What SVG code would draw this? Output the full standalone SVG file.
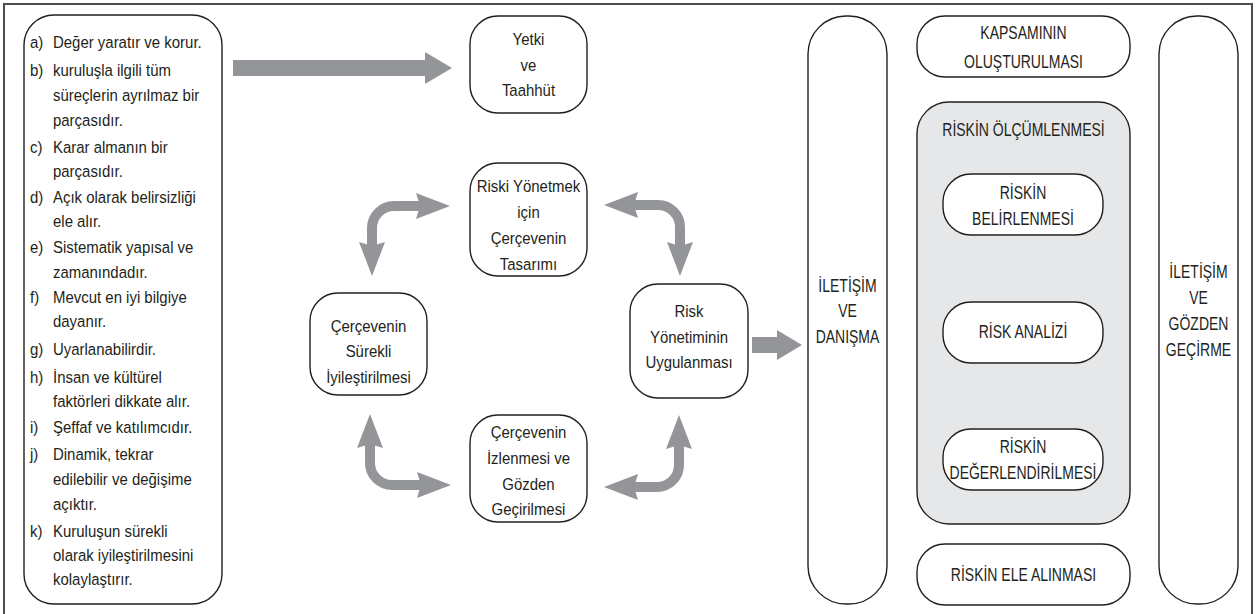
<svg xmlns="http://www.w3.org/2000/svg" width="1258" height="614" viewBox="0 0 1258 614">
<style>
.node{fill:#ffffff;stroke:#231f20;stroke-width:1.4}
.gray{fill:#e6e7e8;stroke:#231f20;stroke-width:1.4}
.t{font-family:"Liberation Sans",Arial,sans-serif;font-size:17px;fill:#231f20}
.c{text-anchor:middle}
.cap{font-family:"Liberation Sans",Arial,sans-serif;font-size:17.5px;fill:#231f20;text-anchor:middle}
.shaft{fill:none;stroke:#939598;stroke-width:10}
.big{fill:#939598}
</style>
<defs>
<marker id="head" markerUnits="userSpaceOnUse" markerWidth="40" markerHeight="30" viewBox="-2 -15 40 30" refX="4" refY="0" orient="auto-start-reverse">
<path d="M0,-13 L34,0 L0,13 L4,0 Z" fill="#939598"/>
</marker>
</defs>
<rect x="4" y="4" width="1248" height="640" fill="none" stroke="#4d4d4d" stroke-width="2"/>

<g id="principles">
<rect class="node" x="24" y="15" width="198" height="589" rx="30" ry="30"/>
<g transform="scale(0.88 1)">
<text class="t" x="34.09" y="48">a)</text><text class="t" x="60.23" y="48">Değer yaratır ve korur.</text>
<text class="t" x="34.09" y="76">b)</text><text class="t" x="60.23" y="76">kuruluşla ilgili tüm</text>
<text class="t" x="60.23" y="101">süreçlerin ayrılmaz bir</text>
<text class="t" x="60.23" y="126">parçasıdır.</text>
<text class="t" x="34.09" y="153">c)</text><text class="t" x="60.23" y="153">Karar almanın bir</text>
<text class="t" x="60.23" y="177">parçasıdır.</text>
<text class="t" x="34.09" y="203">d)</text><text class="t" x="60.23" y="203">Açık olarak belirsizliği</text>
<text class="t" x="60.23" y="227">ele alır.</text>
<text class="t" x="34.09" y="253">e)</text><text class="t" x="60.23" y="253">Sistematik yapısal ve</text>
<text class="t" x="60.23" y="278">zamanındadır.</text>
<text class="t" x="34.09" y="303">f)</text><text class="t" x="60.23" y="303">Mevcut en iyi bilgiye</text>
<text class="t" x="60.23" y="327">dayanır.</text>
<text class="t" x="34.09" y="355">g)</text><text class="t" x="60.23" y="355">Uyarlanabilirdir.</text>
<text class="t" x="34.09" y="383">h)</text><text class="t" x="60.23" y="383">İnsan ve kültürel</text>
<text class="t" x="60.23" y="407">faktörleri dikkate alır.</text>
<text class="t" x="34.09" y="433">i)</text><text class="t" x="60.23" y="433">Şeffaf ve katılımcıdır.</text>
<text class="t" x="34.09" y="460">j)</text><text class="t" x="60.23" y="460">Dinamik, tekrar</text>
<text class="t" x="60.23" y="485">edilebilir ve değişime</text>
<text class="t" x="60.23" y="510">açıktır.</text>
<text class="t" x="34.09" y="537">k)</text><text class="t" x="60.23" y="537">Kuruluşun sürekli</text>
<text class="t" x="60.23" y="561">olarak iyileştirilmesini</text>
<text class="t" x="60.23" y="585">kolaylaştırır.</text>
</g>
</g>

<g id="yetki">
<rect class="node" x="470" y="16" width="117" height="97" rx="28" ry="28"/>
<g transform="scale(0.88 1)">
<text class="t c" x="600.57" y="45">Yetki</text>
<text class="t c" x="600.57" y="71">ve</text>
<text class="t c" x="600.57" y="96">Taahhüt</text>
</g>
</g>

<g id="tasarim">
<rect class="node" x="470" y="163" width="117" height="113" rx="28" ry="28"/>
<g transform="scale(0.88 1)">
<text class="t c" x="600.57" y="192">Riski Yönetmek</text>
<text class="t c" x="600.57" y="218">için</text>
<text class="t c" x="600.57" y="244">Çerçevenin</text>
<text class="t c" x="600.57" y="270">Tasarımı</text>
</g>
</g>

<g id="iyilestirme">
<rect class="node" x="310" y="293" width="117" height="102" rx="28" ry="28"/>
<g transform="scale(0.88 1)">
<text class="t c" x="418.75" y="332">Çerçevenin</text>
<text class="t c" x="418.75" y="357">Sürekli</text>
<text class="t c" x="418.75" y="383">İyileştirilmesi</text>
</g>
</g>

<g id="uygulama">
<rect class="node" x="630" y="284" width="118" height="114" rx="28" ry="28"/>
<g transform="scale(0.88 1)">
<text class="t c" x="782.95" y="317">Risk</text>
<text class="t c" x="782.95" y="343">Yönetiminin</text>
<text class="t c" x="782.95" y="368">Uygulanması</text>
</g>
</g>

<g id="izleme">
<rect class="node" x="470" y="415" width="117" height="107" rx="28" ry="28"/>
<g transform="scale(0.88 1)">
<text class="t c" x="600.57" y="438">Çerçevenin</text>
<text class="t c" x="600.57" y="464">İzlenmesi ve</text>
<text class="t c" x="600.57" y="490">Gözden</text>
<text class="t c" x="600.57" y="515">Geçirilmesi</text>
</g>
</g>

<g id="iletisim-danisma">
<rect class="node" x="808" y="16" width="79" height="588" rx="38" ry="38"/>
<g transform="scale(0.8 1)">
<text class="cap" x="1059.375" y="292">İLETİŞİM</text>
<text class="cap" x="1059.375" y="317">VE</text>
<text class="cap" x="1059.375" y="343">DANIŞMA</text>
</g>
</g>

<g id="kapsam">
<rect class="node" x="917" y="16" width="213" height="61" rx="28" ry="28"/>
<g transform="scale(0.8 1)">
<text class="cap" x="1279.375" y="39">KAPSAMININ</text>
<text class="cap" x="1279.375" y="68">OLUŞTURULMASI</text>
</g>
</g>

<g id="olcumleme">
<rect class="gray" x="917" y="102" width="213" height="422" rx="32" ry="32"/>
<g transform="scale(0.8 1)">
<text class="cap" x="1279.375" y="136">RİSKİN ÖLÇÜMLENMESİ</text>
</g>
</g>

<g id="belirleme">
<rect class="node" x="943" y="174" width="160" height="61" rx="28" ry="28"/>
<g transform="scale(0.8 1)">
<text class="cap" x="1278.75" y="199">RİSKİN</text>
<text class="cap" x="1278.75" y="225">BELİRLENMESİ</text>
</g>
</g>

<g id="analiz">
<rect class="node" x="943" y="302" width="160" height="61" rx="28" ry="28"/>
<g transform="scale(0.8 1)">
<text class="cap" x="1278.75" y="338">RİSK ANALİZİ</text>
</g>
</g>

<g id="degerlendirme">
<rect class="node" x="943" y="429" width="160" height="61" rx="28" ry="28"/>
<g transform="scale(0.8 1)">
<text class="cap" x="1278.75" y="453">RİSKİN</text>
<text class="cap" x="1278.75" y="479">DEĞERLENDİRİLMESİ</text>
</g>
</g>

<g id="ele-alma">
<rect class="node" x="917" y="544" width="213" height="61" rx="28" ry="28"/>
<g transform="scale(0.8 1)">
<text class="cap" x="1279.375" y="581">RİSKİN ELE ALINMASI</text>
</g>
</g>

<g id="iletisim-gozden">
<rect class="node" x="1159" y="16" width="79" height="588" rx="38" ry="38"/>
<g transform="scale(0.8 1)">
<text class="cap" x="1498.125" y="278">İLETİŞİM</text>
<text class="cap" x="1498.125" y="304">VE</text>
<text class="cap" x="1498.125" y="330">GÖZDEN</text>
<text class="cap" x="1498.125" y="356">GEÇİRME</text>
</g>
</g>

<g id="connectors">
<polygon class="big" points="233,60 425,60 425,52 452,68 425,84 425,76 233,76"/>
<polygon class="big" points="752,337 777,337 777,330 802,345 777,360 777,353 752,353"/>
<path class="shaft" d="M420,206 H394 A22,22 0 0 0 372,228 V246" marker-start="url(#head)" marker-end="url(#head)"/>
<path class="shaft" d="M634,205 H658 A22,22 0 0 1 680,227 V246" marker-start="url(#head)" marker-end="url(#head)"/>
<path class="shaft" d="M370,444 V463 A22,22 0 0 0 392,485 H421" marker-start="url(#head)" marker-end="url(#head)"/>
<path class="shaft" d="M679,445 V465 A22,22 0 0 1 657,487 H634" marker-start="url(#head)" marker-end="url(#head)"/>
</g>
</svg>
